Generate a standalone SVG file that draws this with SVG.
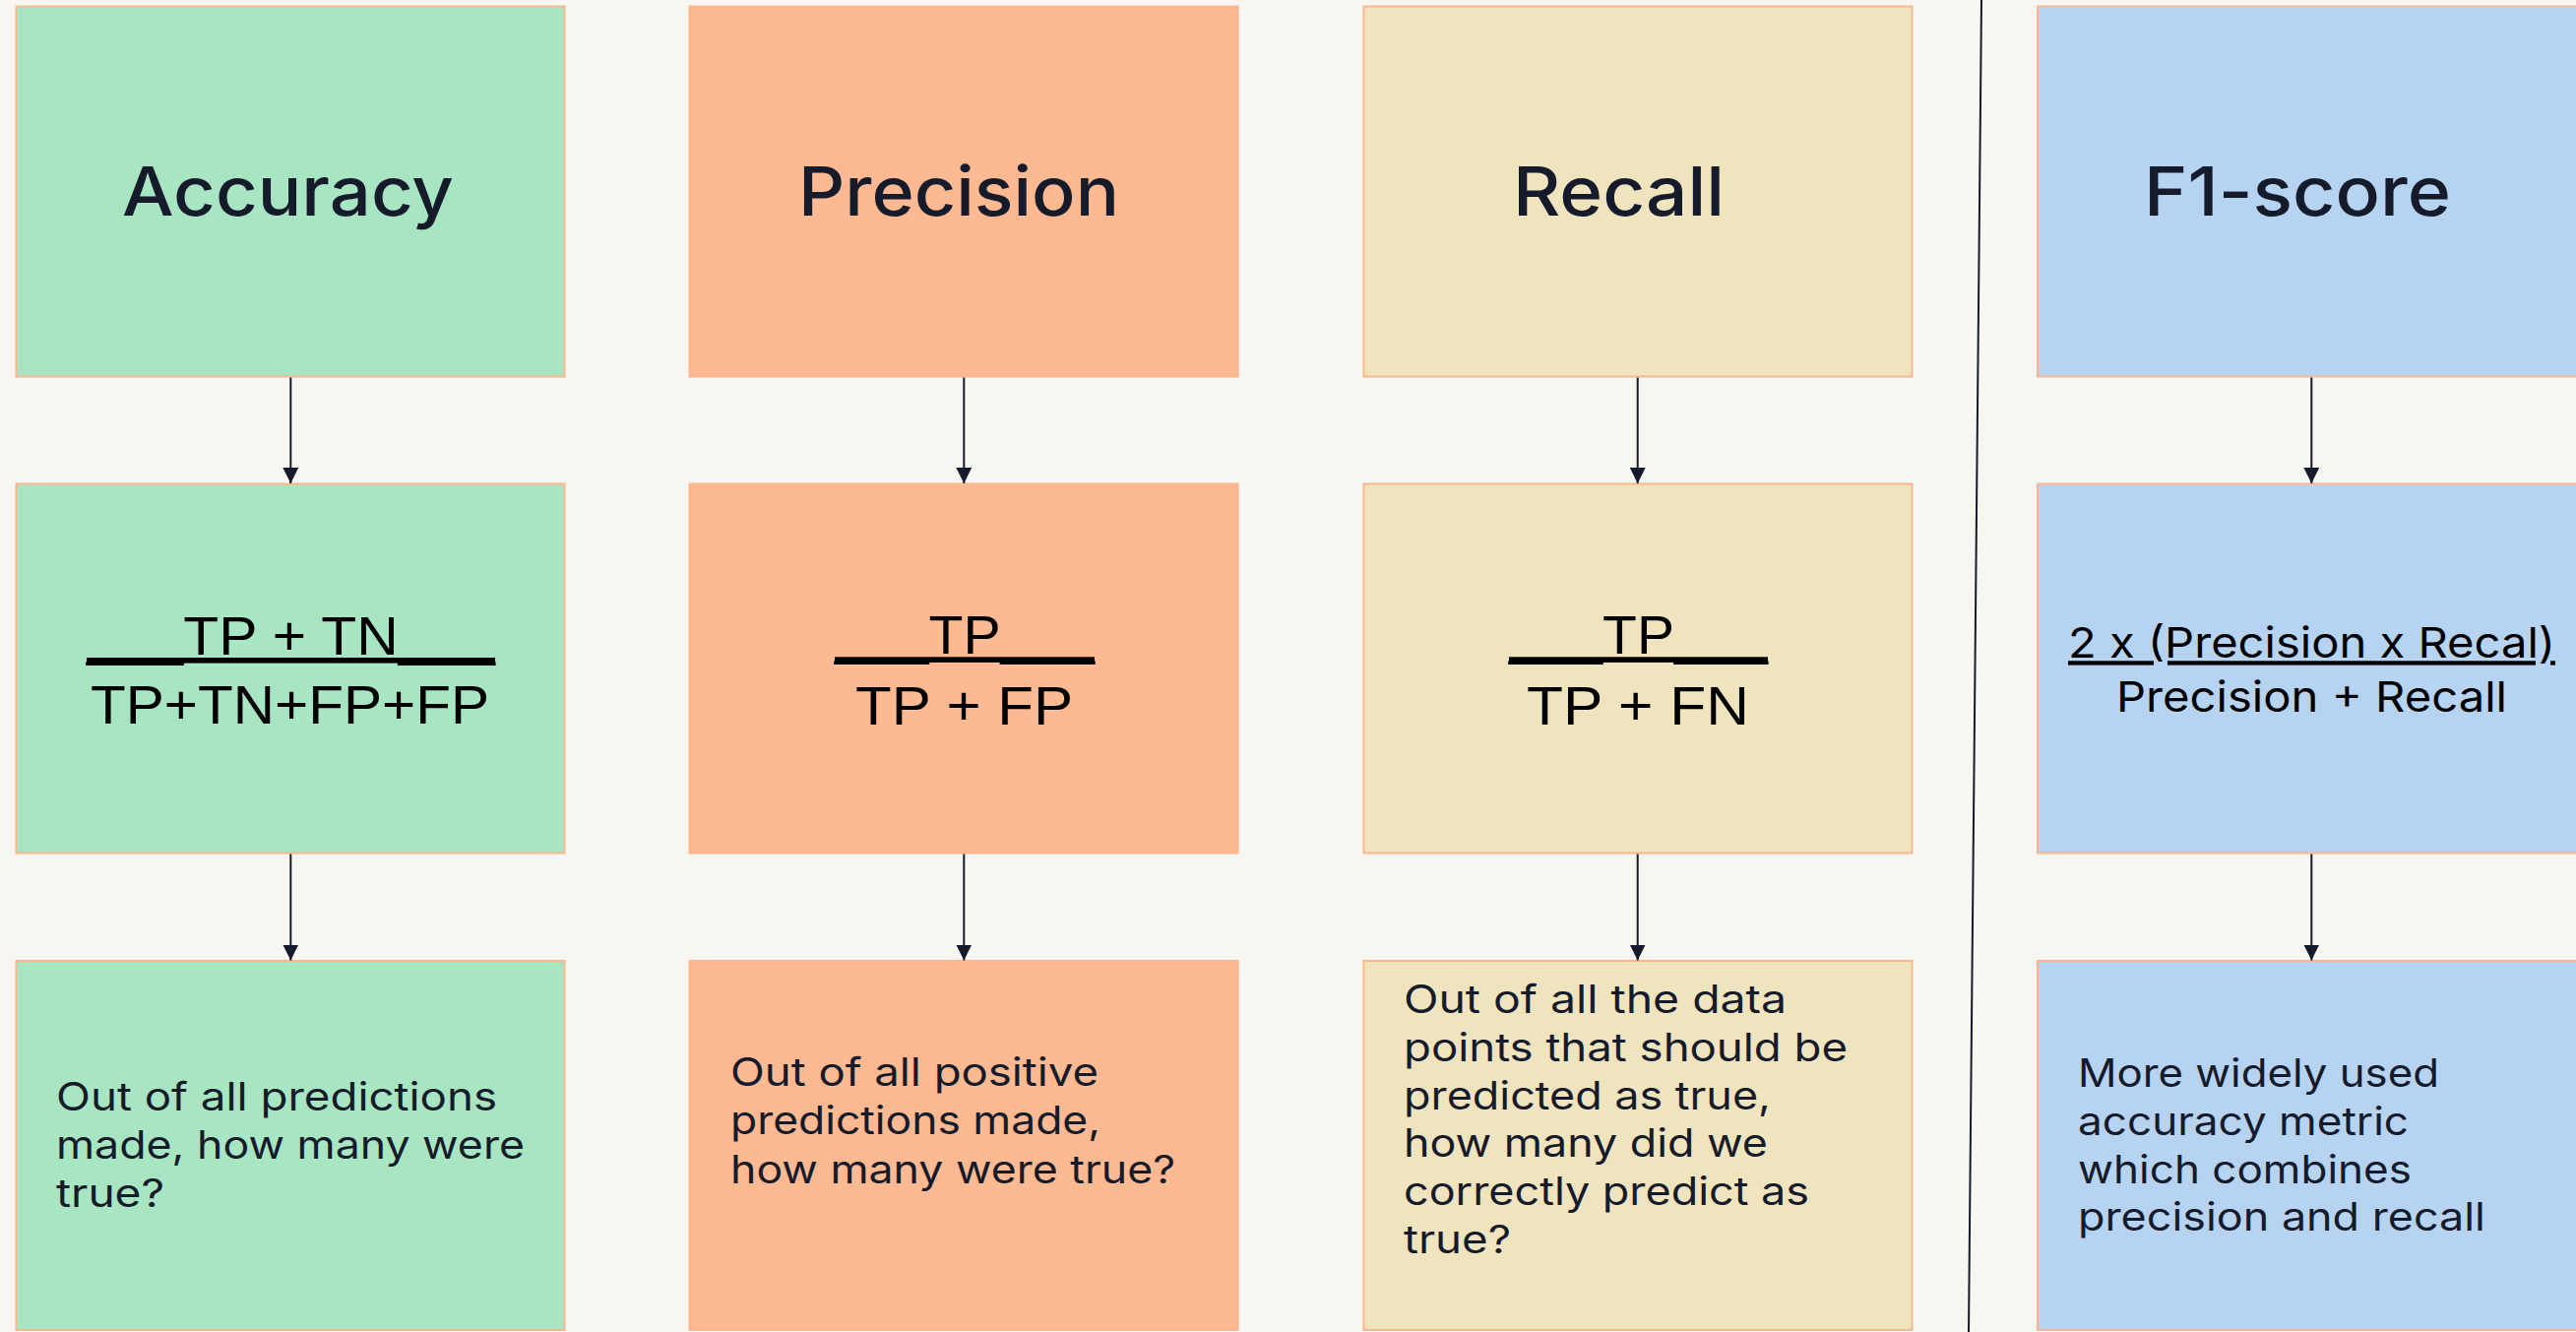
<svg xmlns="http://www.w3.org/2000/svg" width="2617" height="1353" viewBox="0 0 2617 1353">
  <style>
    .box { stroke: #FDB68C; stroke-width: 2; }
    .g { fill: #A8E6C3; }
    .o { fill: #FDB991; }
    .y { fill: #F0E4BF; }
    .b { fill: #B6D4F2; }
    .title { font-family: Inter, "Open Sans", "Liberation Sans", sans-serif; font-size: 69px; font-weight: 500; fill: #151B2B; }
    .f { font-family: "Liberation Sans", Arial, sans-serif; font-size: 56px; fill: #000000; }
    .f4 { font-family: Inter, "Open Sans", "Liberation Sans", sans-serif; font-size: 43px; fill: #000000; }
    .d { font-family: Inter, "Open Sans", "Liberation Sans", sans-serif; font-size: 39.5px; fill: #151B2B; }
    .conn { stroke: #151B2B; stroke-width: 2; fill: none; }
  </style>
  <defs>
    <marker id="arrow" viewBox="0 0 10 10" refX="10" refY="5" markerWidth="16" markerHeight="16" markerUnits="userSpaceOnUse" orient="auto">
      <path d="M0,0 L10,5 L0,10 z" fill="#151B2B"/>
    </marker>
  </defs>
  <rect x="0" y="0" width="2617" height="1353" fill="#F7F6F0"/>

  <!-- Column 1: Accuracy -->
  <g id="accuracy-title">
    <rect class="box g" x="16.5" y="6.5" width="557" height="376"/>
    <text class="title" x="124" y="219" textLength="337" lengthAdjust="spacingAndGlyphs">Accuracy</text>
  </g>
  <g id="accuracy-formula">
    <rect class="box g" x="16.5" y="491.5" width="557" height="375"/>
    <text class="f" x="88" y="665" textLength="415" lengthAdjust="spacingAndGlyphs" text-decoration="underline">___TP + TN___</text>
    <text class="f" x="92" y="734.6" textLength="405" lengthAdjust="spacingAndGlyphs">TP+TN+FP+FP</text>
  </g>
  <g id="accuracy-desc">
    <rect class="box g" x="16.5" y="976" width="557" height="375"/>
    <text class="d" x="57" y="1128.3" textLength="448" lengthAdjust="spacingAndGlyphs">Out of all predictions</text>
    <text class="d" x="57" y="1177.3" textLength="476" lengthAdjust="spacingAndGlyphs">made, how many were</text>
    <text class="d" x="57" y="1225.7" textLength="110" lengthAdjust="spacingAndGlyphs">true?</text>
  </g>

  <!-- Column 2: Precision -->
  <g id="precision-title">
    <rect class="box o" x="700.5" y="6.5" width="557" height="376"/>
    <text class="title" x="811" y="218.5" textLength="326" lengthAdjust="spacingAndGlyphs">Precision</text>
  </g>
  <g id="precision-formula">
    <rect class="box o" x="700.5" y="491.5" width="557" height="375"/>
    <text class="f" x="848" y="664.3" textLength="264" lengthAdjust="spacingAndGlyphs" text-decoration="underline">___TP___</text>
    <text class="f" x="869" y="735.7" textLength="221" lengthAdjust="spacingAndGlyphs">TP + FP</text>
  </g>
  <g id="precision-desc">
    <rect class="box o" x="700.5" y="976" width="557" height="375"/>
    <text class="d" x="742" y="1103.3" textLength="374" lengthAdjust="spacingAndGlyphs">Out of all positive</text>
    <text class="d" x="742" y="1151.7" textLength="376" lengthAdjust="spacingAndGlyphs">predictions made,</text>
    <text class="d" x="742" y="1201.7" textLength="452" lengthAdjust="spacingAndGlyphs">how many were true?</text>
  </g>

  <!-- Column 3: Recall -->
  <g id="recall-title">
    <rect class="box y" x="1385.5" y="6.5" width="557" height="376"/>
    <text class="title" x="1537" y="218.5" textLength="215" lengthAdjust="spacingAndGlyphs">Recall</text>
  </g>
  <g id="recall-formula">
    <rect class="box y" x="1385.5" y="491.5" width="557" height="375"/>
    <text class="f" x="1533" y="664.3" textLength="263" lengthAdjust="spacingAndGlyphs" text-decoration="underline">___TP___</text>
    <text class="f" x="1551" y="735.7" textLength="226" lengthAdjust="spacingAndGlyphs">TP + FN</text>
  </g>
  <g id="recall-desc">
    <rect class="box y" x="1385.5" y="976" width="557" height="375"/>
    <text class="d" x="1426" y="1029.3" textLength="389" lengthAdjust="spacingAndGlyphs">Out of all the data</text>
    <text class="d" x="1426" y="1078.3" textLength="451" lengthAdjust="spacingAndGlyphs">points that should be</text>
    <text class="d" x="1426" y="1126.7" textLength="373" lengthAdjust="spacingAndGlyphs">predicted as true,</text>
    <text class="d" x="1426" y="1175" textLength="370" lengthAdjust="spacingAndGlyphs">how many did we</text>
    <text class="d" x="1426" y="1224.3" textLength="412" lengthAdjust="spacingAndGlyphs">correctly predict as</text>
    <text class="d" x="1426" y="1273.3" textLength="109" lengthAdjust="spacingAndGlyphs">true?</text>
  </g>

  <!-- Column 4: F1-score -->
  <g id="f1-title">
    <rect class="box b" x="2070" y="6.5" width="557" height="376"/>
    <text class="title" x="2178" y="219" textLength="312" lengthAdjust="spacingAndGlyphs">F1-score</text>
  </g>
  <g id="f1-formula">
    <rect class="box b" x="2070" y="491.5" width="557" height="375"/>
    <text class="f4" x="2101" y="668.3" textLength="495" lengthAdjust="spacingAndGlyphs" text-decoration="underline">2 x (Precision x Recal)</text>
    <text class="f4" x="2150" y="723.3" textLength="397" lengthAdjust="spacingAndGlyphs">Precision + Recall</text>
  </g>
  <g id="f1-desc">
    <rect class="box b" x="2070" y="976" width="557" height="375"/>
    <text class="d" x="2111" y="1104" textLength="367" lengthAdjust="spacingAndGlyphs">More widely used</text>
    <text class="d" x="2111" y="1152.7" textLength="336" lengthAdjust="spacingAndGlyphs">accuracy metric</text>
    <text class="d" x="2111" y="1201.7" textLength="339" lengthAdjust="spacingAndGlyphs">which combines</text>
    <text class="d" x="2111" y="1250" textLength="414" lengthAdjust="spacingAndGlyphs">precision and recall</text>
  </g>

  <!-- Connectors -->
  <g id="connectors">
    <line class="conn" x1="295.3" y1="383.5" x2="295.3" y2="491" marker-end="url(#arrow)"/>
    <line class="conn" x1="295.3" y1="867.5" x2="295.3" y2="975.5" marker-end="url(#arrow)"/>
    <line class="conn" x1="979.3" y1="383.5" x2="979.3" y2="491" marker-end="url(#arrow)"/>
    <line class="conn" x1="979.3" y1="867.5" x2="979.3" y2="975.5" marker-end="url(#arrow)"/>
    <line class="conn" x1="1663.7" y1="383.5" x2="1663.7" y2="491" marker-end="url(#arrow)"/>
    <line class="conn" x1="1663.7" y1="867.5" x2="1663.7" y2="975.5" marker-end="url(#arrow)"/>
    <line class="conn" x1="2348.3" y1="383.5" x2="2348.3" y2="491" marker-end="url(#arrow)"/>
    <line class="conn" x1="2348.3" y1="867.5" x2="2348.3" y2="975.5" marker-end="url(#arrow)"/>
    <line class="conn" x1="2013" y1="0" x2="2000" y2="1353"/>
  </g>
</svg>
